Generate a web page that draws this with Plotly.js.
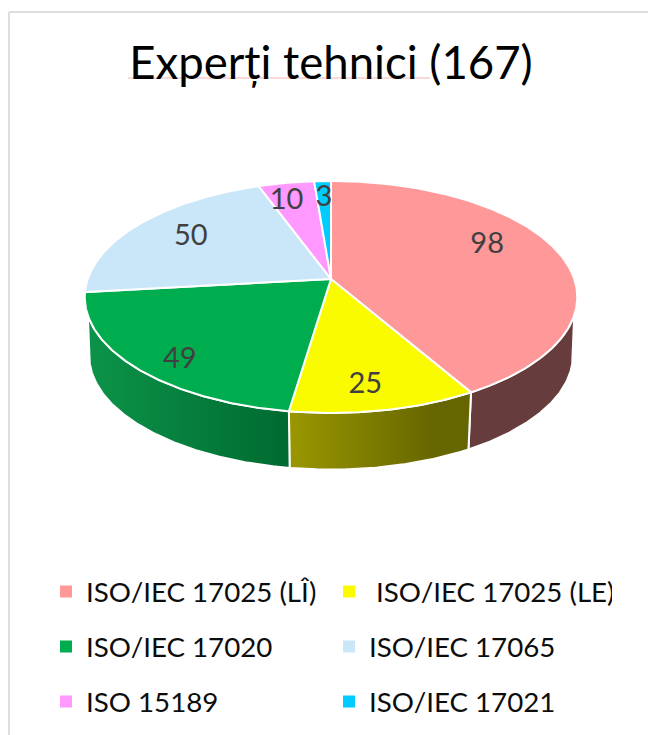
<!DOCTYPE html>
<html>
<head>
<meta charset="utf-8">
<script src="https://cdn.plot.ly/plotly-3.0.0.min.js"></script>
<style>html,body{margin:0;padding:0;background:#fff}#chart{width:648px;height:735px}</style>
</head>
<body>
<div id="chart"></div>
<script>
const chartTitle = "Experți tehnici (167)";
const categories = ["ISO/IEC 17025 (LÎ)", "ISO/IEC 17025 (LE)", "ISO/IEC 17020", "ISO/IEC 17065", "ISO 15189", "ISO/IEC 17021"];
const values = [98, 25, 49, 50, 10, 3];
const topColors = ["#FF9999", "#FBFB00", "#00AD4E", "#C9E7F9", "#FF99FF", "#00CCFF"];

// Projection of the tilted disc (perspective) onto the plot's pixel-scaled axes
const CX = 331, CY = 279, A = 243.3, B = 113.2, K = 0.155, DROP = 59, SHRINK = 0.982;
const rad = d => d * Math.PI / 180;
function project(t, f, low) {
  const u = f * Math.sin(rad(t)), v = -f * Math.cos(rad(t)), den = 1 - K * v;
  const s = low ? SHRINK : 1;
  return [CX + s * A * u / den, CY + (low ? DROP : 0) + s * B * v / den];
}
function arc(t0, t1, low) {
  const n = Math.max(2, Math.ceil(Math.abs(t1 - t0) * 2)), pts = [];
  for (let i = 0; i <= n; i++) pts.push(project(t0 + (t1 - t0) * i / n, 1, low));
  return pts;
}
const total = values.reduce((a, b) => a + b, 0);
const edges = [0];
values.forEach(v => edges.push(edges[edges.length - 1] + v / total * 360));

// Visible wall limits: the silhouette of the side of the disc
const WALL_TOP = [107.8, 252.2], WALL_LOW = [103, 257];
const wallStyles = [
  {i: 0, scale: [[0, "#663C3C"], [1, "#663C3C"]]},
  {i: 1, scale: [[0, "#9A9700"], [0.8, "#666600"], [1, "#666600"]]},
  {i: 2, scale: [[0, "#0C9349"], [1, "#006A30"]]}
];
const traces = [];
const poly = (pts, extra) => Object.assign({
  type: "scatter", mode: "lines", x: pts.map(p => p[0]), y: pts.map(p => p[1]),
  fill: "toself", line: {color: "#FFFFFF", width: 2}, showlegend: false, hoverinfo: "skip"
}, extra);

wallStyles.forEach(w => {
  const a = edges[w.i], b = edges[w.i + 1];
  const top = arc(Math.max(a, WALL_TOP[0]), Math.min(b, WALL_TOP[1]), false);
  const low = arc(Math.max(a, WALL_LOW[0]), Math.min(b, WALL_LOW[1]), true).reverse();
  const pts = top.concat(low);
  pts.push(pts[0]);
  traces.push(poly(pts, {fillcolor: w.scale[0][1], fillgradient: {type: "horizontal", colorscale: w.scale}}));
});
values.forEach((v, i) => {
  const pts = [[CX, CY]].concat(arc(edges[i], edges[i + 1], false));
  pts.push([CX, CY]);
  traces.push(poly(pts, {fillcolor: topColors[i], name: categories[i]}));
});

// Data labels
const LABEL_DROP = 2.5;
const labelShift = [-11, 2, -4.4, 1.8, -2.3, 0];
const labelRadius = [0.75, 0.815, 0.845, 0.735, 0.815, 0.825];
const labelPts = values.map((v, i) => project((edges[i] + edges[i + 1]) / 2 + labelShift[i], labelRadius[i], false));
traces.push({
  type: "scatter", mode: "text", x: labelPts.map(p => p[0]), y: labelPts.map(p => p[1] + LABEL_DROP),
  text: values.map(String), textposition: "middle center",
  textfont: {family: "Lato, sans-serif", size: 29, color: "#404040"},
  showlegend: false, hoverinfo: "skip"
});

// Legend rows: one legend per row, two entries each
const legendIds = ["legend", "legend", "legend2", "legend2", "legend3", "legend3"];
categories.forEach((c, i) => {
  traces.push({
    type: "scatter", mode: "markers", x: [null], y: [null],
    name: (i === 1 ? "\u00a0" : "") + c,
    legend: legendIds[i],
    marker: {symbol: "square", size: 12, color: topColors[i]},
    hoverinfo: "skip"
  });
});
const legendBase = y => ({
  orientation: "h", x: 46 / 648, xanchor: "left", y: 1 - y / 735, yanchor: "middle",
  entrywidth: 238, entrywidthmode: "pixels", bgcolor: "rgba(0,0,0,0)",
  font: {family: "Lato, sans-serif", size: 27.7, color: "#0D0D0D"}
});

const layout = {
  width: 648, height: 735,
  margin: {l: 0, r: 0, t: 0, b: 0, autoexpand: false},
  paper_bgcolor: "#FFFFFF", plot_bgcolor: "#FFFFFF",
  title: {text: chartTitle, x: 331 / 648, xanchor: "center", y: 1 - 63 / 735, yanchor: "middle",
          font: {family: "Lato, sans-serif", size: 45.5, color: "#000000"}},
  xaxis: {range: [0, 648], visible: false, fixedrange: true},
  yaxis: {range: [735, 0], visible: false, fixedrange: true},
  legend: legendBase(592), legend2: legendBase(647), legend3: legendBase(702),
  shapes: [
    {type: "line", xref: "paper", yref: "paper", x0: 9 / 648, x1: 9 / 648, y0: 0, y1: 1 - 12 / 735, line: {color: "#DEDEDE", width: 2}},
    {type: "line", xref: "paper", yref: "paper", x0: 9 / 648, x1: 1, y0: 1 - 12 / 735, y1: 1 - 12 / 735, line: {color: "#DEDEDE", width: 2}},
    {type: "line", xref: "paper", yref: "paper", x0: 128 / 648, x1: 430 / 648, y0: 1 - 78 / 735, y1: 1 - 78 / 735, line: {color: "#F6B4B4", width: 1}}
  ]
};
Plotly.newPlot("chart", traces, layout, {displayModeBar: false, staticPlot: true});
</script>
</body>
</html>
